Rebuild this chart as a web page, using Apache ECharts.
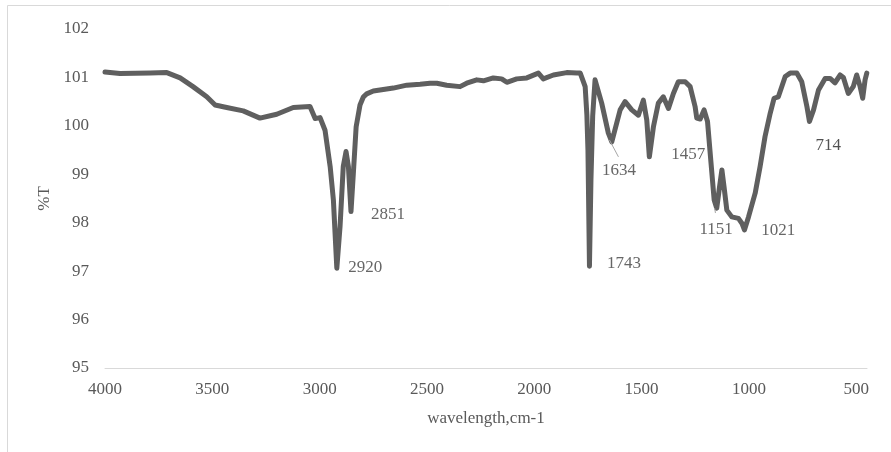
<!DOCTYPE html>
<html>
<head>
<meta charset="utf-8">
<script src="https://cdn.jsdelivr.net/npm/echarts@6/dist/echarts.min.js"></script>
<style>
  html, body { margin: 0; padding: 0; background: #fff; }
  #chart { width: 891px; height: 452px; }
</style>
</head>
<body>
<div id="chart"></div>
<script>
// wavenumber (cm-1) and %T
var wavenumbers = [4000, 3930, 3790, 3712, 3650, 3590, 3526, 3487, 3433, 3356, 3278, 3200, 3123, 3045, 3021, 2998,
  2975, 2951, 2936, 2920, 2905, 2890, 2877, 2866, 2854, 2843, 2830, 2812, 2796, 2781, 2750, 2719, 2657, 2594, 2532,
  2486, 2454, 2408, 2346, 2315, 2268, 2237, 2191, 2152, 2128, 2082, 2035, 1981, 1958, 1911, 1849, 1802, 1786, 1771,
  1763, 1755, 1750, 1743, 1736, 1728, 1717, 1709, 1686, 1655, 1639, 1631, 1600, 1577, 1546, 1515, 1492, 1476, 1464,
  1445, 1422, 1399, 1375, 1352, 1329, 1297, 1274, 1251, 1243, 1227, 1209, 1193, 1178, 1162, 1150, 1137, 1126, 1116,
  1103, 1080, 1049, 1033, 1021, 1002, 971, 948, 925, 901, 883, 863, 855, 831, 808, 777, 754, 730, 718, 699, 676, 645,
  622, 599, 575, 560, 537, 514, 498, 482, 470, 459, 451];
var transmittance = [101.11, 101.08, 101.09, 101.1, 100.99, 100.81, 100.6, 100.43, 100.38, 100.31, 100.16, 100.24,
  100.38, 100.4, 100.15, 100.17, 99.91, 99.16, 98.47, 97.06, 97.92, 99.16, 99.47, 99.16, 98.23, 99.02, 99.98, 100.43,
  100.6, 100.66, 100.72, 100.74, 100.78, 100.84, 100.86, 100.88, 100.88, 100.84, 100.81, 100.88, 100.95, 100.93,
  100.99, 100.97, 100.9, 100.97, 100.99, 101.09, 100.97, 101.05, 101.1, 101.09, 101.09, 100.91, 100.81, 100.22, 99.5,
  97.1, 98.9, 100.2, 100.95, 100.98, 100.47, 99.85, 99.67, 99.7, 100.33, 100.5, 100.33, 100.22, 100.53, 100.12, 99.36,
  99.98, 100.47, 100.6, 100.36, 100.67, 100.91, 100.91, 100.81, 100.4, 100.16, 100.14, 100.33, 100.09, 99.3, 98.47,
  98.3, 98.74, 99.09, 98.74, 98.26, 98.12, 98.09, 97.99, 97.85, 98.12, 98.61, 99.16, 99.78, 100.26, 100.57, 100.6,
  100.64, 101.02, 101.09, 101.09, 100.91, 100.4, 100.09, 100.33, 100.74, 100.98, 100.98, 100.89, 101.05, 101.0,
  100.67, 100.81, 101.05, 100.81, 100.57, 100.95, 101.09];

// peak annotations (text position in data units)
var peakNames = ["2920", "2851", "1743", "1634", "1457", "1151", "1021", "714"];
var peakX = [2788, 2681, 1582, 1605, 1283, 1153, 864, 631];
var peakY = [97.07, 98.16, 97.15, 99.07, 99.4, 97.85, 97.83, 99.6];

var xTicks = [500, 1000, 1500, 2000, 2500, 3000, 3500, 4000];

var spectrum = wavenumbers.map(function (w, i) { return [w, transmittance[i]]; });
var peaks = peakNames.map(function (n, i) {
  return { name: n, value: [peakX[i], peakY[i]], label: { color: n === "714" ? '#262626' : '#404040' } };
});

var font = '"Liberation Serif", "Times New Roman", serif';

var option = {
  animation: false,
  backgroundColor: '#fff',
  graphic: [{
    type: 'rect',
    shape: { x: 7.5, y: 5.5, width: 900, height: 470 },
    style: { fill: 'none', stroke: '#d9d9d9', lineWidth: 1 },
    silent: true
  }],
  grid: { left: 105, right: 24, top: 29, bottom: 84 },
  xAxis: {
    type: 'value',
    inverse: true,
    min: 450,
    max: 4000,
    name: 'wavelength,cm-1',
    nameLocation: 'middle',
    nameGap: 42,
    nameTextStyle: { fontFamily: font, fontSize: 17, color: '#595959' },
    axisLine: { show: true, onZero: false, lineStyle: { color: '#d9d9d9', width: 1 } },
    axisTick: { show: false },
    splitLine: { show: false },
    axisLabel: {
      customValues: xTicks,
      formatter: function (v) { return String(v); },
      margin: 13,
      fontFamily: font,
      fontSize: 17,
      color: '#595959'
    }
  },
  yAxis: {
    type: 'value',
    min: 95,
    max: 102,
    interval: 1,
    name: '%T',
    nameLocation: 'middle',
    nameGap: 52,
    nameTextStyle: { fontFamily: font, fontSize: 17, color: '#595959' },
    axisLine: { show: false },
    axisTick: { show: false },
    splitLine: { show: false },
    axisLabel: { margin: 16, fontFamily: font, fontSize: 17, color: '#595959' }
  },
  series: [
    {
      type: 'line',
      data: spectrum,
      symbol: 'none',
      lineStyle: { color: '#5f5f5f', width: 5, cap: 'round', join: 'round' },
      z: 3
    },
    {
      type: 'line',
      data: [[1650, 99.71], [1608, 99.36]],
      symbol: 'none',
      lineStyle: { color: '#a6a6a6', width: 1 },
      z: 4
    },
    {
      type: 'line',
      data: [[1160, 98.3], [1156, 98.2]],
      symbol: 'none',
      lineStyle: { color: '#a6a6a6', width: 1 },
      z: 4
    },
    {
      type: 'scatter',
      data: peaks,
      symbolSize: 0,
      label: {
        show: true,
        position: 'inside',
        formatter: function (p) { return p.name; },
        fontFamily: font,
        fontSize: 17
      },
      z: 5
    }
  ]
};

var myChart = echarts.init(document.getElementById('chart'));
myChart.setOption(option);
</script>
</body>
</html>
